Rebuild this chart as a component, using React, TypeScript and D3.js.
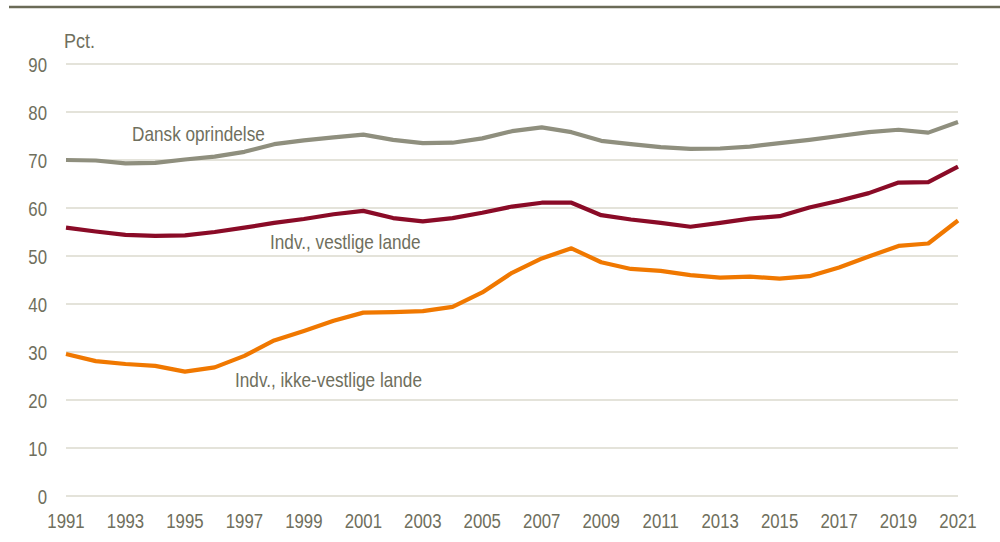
import * as d3 from 'd3';
import { useEffect, useRef } from "react";

const years = d3.range(1991, 2022);
const dansk = [70.0, 69.9, 69.3, 69.4, 70.1, 70.7, 71.7, 73.3, 74.1, 74.7, 75.3, 74.2, 73.5, 73.6, 74.5, 76.0, 76.8, 75.8, 74.0, 73.3, 72.7, 72.3, 72.4, 72.8, 73.5, 74.2, 75.0, 75.8, 76.3, 75.7, 77.9];
const vestlige = [55.9, 55.1, 54.4, 54.2, 54.3, 55.0, 55.9, 56.9, 57.7, 58.7, 59.4, 57.9, 57.2, 57.9, 59.0, 60.3, 61.1, 61.1, 58.5, 57.6, 56.9, 56.1, 56.9, 57.8, 58.3, 60.1, 61.5, 63.1, 65.3, 65.4, 68.6];
const ikkeVestlige = [29.6, 28.1, 27.5, 27.1, 25.9, 26.8, 29.2, 32.4, 34.4, 36.5, 38.2, 38.3, 38.5, 39.4, 42.4, 46.5, 49.5, 51.6, 48.7, 47.3, 46.9, 46.0, 45.5, 45.7, 45.3, 45.8, 47.6, 49.9, 52.1, 52.6, 57.4];
const yTicks = [0, 10, 20, 30, 40, 50, 60, 70, 80, 90];
const xTickYears = d3.range(1991, 2022, 2);

const series = [
    { name: 'Dansk oprindelse', values: dansk, color: '#8f8f7e', lx: 132, ly: 141 },
    { name: 'Indv., vestlige lande', values: vestlige, color: '#8a0b27', lx: 270, ly: 249 },
    { name: 'Indv., ikke-vestlige lande', values: ikkeVestlige, color: '#f07800', lx: 235, ly: 387 },
];

const font = '"Liberation Sans", Arial, sans-serif';
const textColor = '#6f6f5d';

// the original font is a condensed sans; squeeze Liberation Sans horizontally
const addText = (g, x, y, str, size, sx, anchor = 'start') =>
    g.append('text')
        .attr('transform', `translate(${x},${y}) scale(${sx},1)`)
        .attr('text-anchor', anchor)
        .attr('font-family', font)
        .attr('font-size', size)
        .attr('fill', textColor)
        .text(str);

const App = () => {
    const svgRef = useRef();
    const width = 1000, height = 542;

    useEffect(() => {
        const svg = d3.select(svgRef.current);
        svg.selectAll('*').remove();

        const x = d3.scaleLinear().domain([1991, 2021]).range([66, 958]);
        const y = d3.scaleLinear().domain([0, 90]).range([496, 64]);

        // top rule
        svg.append('line')
            .attr('x1', 9).attr('x2', 1000).attr('y1', 7).attr('y2', 7)
            .attr('stroke', '#6b6b57').attr('stroke-width', 2.5);

        svg.append('g').selectAll('line')
            .data(yTicks)
            .enter()
            .append('line')
            .attr('x1', x(1991)).attr('x2', x(2021))
            .attr('y1', d => y(d)).attr('y2', d => y(d))
            .attr('stroke', '#c9c8b6').attr('stroke-width', 1.2);

        const yAxisG = svg.append('g');
        yTicks.forEach(t => addText(yAxisG, 47, y(t) + 7.5, t, 21, 0.8, 'end'));

        const xAxisG = svg.append('g');
        xTickYears.forEach(t => addText(xAxisG, x(t), 528, t, 21, 0.8, 'middle'));

        addText(svg, 64, 48, 'Pct.', 20, 0.9);

        const line = d3.line().x((d, i) => x(years[i])).y(d => y(d));

        series.forEach(s => {
            svg.append('path')
                .datum(s.values)
                .attr('d', line)
                .attr('fill', 'none')
                .attr('stroke', s.color)
                .attr('stroke-width', 4.2)
                .attr('stroke-linejoin', 'round');
            addText(svg, s.lx, s.ly, s.name, 20, 0.86);
        });
    }, []);

    return (
        <svg ref={svgRef} width={width} height={height}
            style={{ position: 'absolute', left: 0, top: 0 }} />
    );
}

export default App;
